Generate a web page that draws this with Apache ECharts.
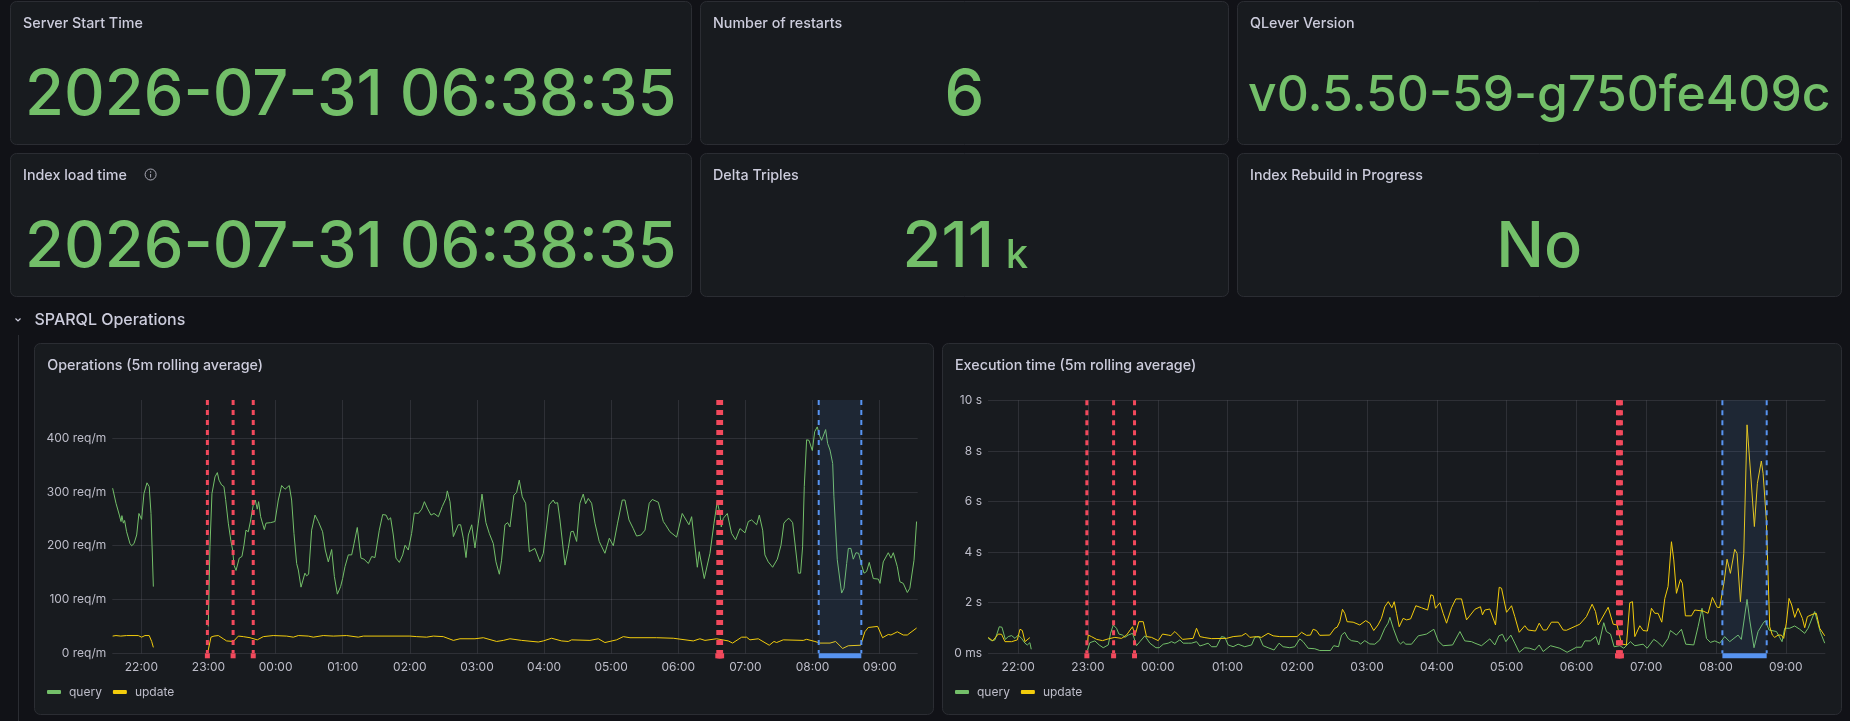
<!DOCTYPE html>
<html>
<head>
<meta charset="utf-8">
<style>html,body{margin:0;padding:0;background:#111217;overflow:hidden}#c{width:1850px;height:721px}</style>
<script src="https://cdn.jsdelivr.net/npm/echarts@6/dist/echarts.min.js"></script>
</head>
<body>
<div id="c"></div>
<script>
// All times are minutes after the left edge of the time range (21:34).
const rangeMinutes = 720;
const restartMinutes = [85, 108, 126, 541.3, 542.5, 543.5, 544.7];
const rebuildRegion = [631.5, 669.6];

const statServerStart = '2026-07-31 06:38:35';
const statRestarts = '6';
const statVersion = 'v0.5.50-59-g750fe409c';
const statIndexLoad = '2026-07-31 06:38:35';
const statDelta = '211';
const statDeltaUnit = 'k';
const statRebuild = 'No';

const opsQuery = [[0.3,307],[3.3,279],[6.3,257],[7.8,245],[8.6,256],[9.9,242],[11,247],[12.8,226],[15.8,204],[17.3,200],[19.4,204],[21.8,220],[23.8,260],[26.2,249],[28.3,297],[31,317],[33,310],[34.6,260],[36.7,124],[60,null],
[85.8,50],[87.3,198],[89.1,297],[91.8,328],[93.9,336],[95.4,322],[97.7,313],[99.8,310],[101.3,286],[103.7,242],[106.1,208],[107.6,192],[108.8,164],[110.6,154],[111.8,156],[113.5,177],[115.9,180],[117.7,201],[119.5,229],[121.6,226],[123.7,248],[126,276],[127.8,285],[129.6,268],[130.8,282],[132.6,254],[135.9,230],[137.4,242],[141.6,243],[145.4,245],[148.4,285],[151.4,312],[154.4,305],[158.2,312],[160.3,285],[162.4,223],[164.8,167],[166.3,155],[168.7,123],[172.2,149],[173.7,144],[175.5,147],[178.2,229],[181.2,257],[184.2,245],[188,226],[190.4,192],[193.1,170],[196.1,193],[198.5,143],[201.2,110],[204.1,124],[205.9,139],[208,161],[211,183],[214,183],[216.1,204],[219,234],[222.3,177],[225,175],[228.9,167],[231.9,180],[234.8,178],[238.7,229],[241.7,258],[244.7,257],[246.8,248],[248.8,252],[251.2,220],[253.6,177],[256.6,169],[259.6,183],[261.7,201],[264.6,192],[267.6,223],[270,261],[273.6,260],[276.6,268],[279,282],[281.6,270],[284.9,257],[287.6,260],[291.5,254],[295,273],[298.3,288],[299.5,302],[301.9,282],[304.9,217],[306.6,214],[309.3,239],[311.4,239],[313.8,214],[316.2,178],[318.3,220],[321.3,239],[324.2,196],[327.2,242],[330.5,296],[334,243],[337,223],[340.6,204],[343,170],[346,147],[348,173],[351,239],[353.4,243],[355.5,235],[359,294],[361.4,299],[363.8,322],[366.5,291],[369.5,279],[372.8,189],[377.8,195],[382.3,170],[385.3,186],[390.6,276],[394.2,285],[395.7,279],[398.1,280],[400.2,248],[404.7,164],[407.6,195],[410,226],[412.1,227],[415.1,208],[418,279],[421,296],[423.1,278],[425.5,288],[428.5,279],[431.5,242],[435.3,208],[440.4,186],[444.3,214],[447.9,200],[451.7,242],[455.9,285],[458.3,285],[461.9,248],[465.7,232],[468.7,218],[472.6,220],[476.2,229],[480,279],[482.7,286],[488.1,281],[492.6,245],[494.6,239],[498.5,226],[504.5,216],[509.5,260],[515.5,239],[517.9,254],[523,160],[524.7,189],[529.2,139],[534.3,186],[537.9,242],[540.8,282],[543.2,260],[544.4,235],[546.2,251],[549.8,260],[553.6,223],[557.2,211],[561.1,232],[565.6,224],[568.6,245],[571.5,248],[576,239],[578.4,257],[581.4,229],[583.4,183],[586.4,170],[590.3,160],[594.5,175],[597.8,201],[600.4,242],[602.8,248],[604.9,251],[608.2,243],[613.3,149],[615.3,149],[617.1,198],[618.6,310],[620.7,397],[622.8,396],[625.8,377],[627.9,412],[630.2,421],[632.6,403],[634.1,396],[637.7,416],[639.5,390],[641.6,378],[644,353],[645.1,291],[648.1,174],[652,112],[654.1,121],[656.5,167],[658,195],[660.3,195],[662.4,175],[664.8,187],[667.2,186],[669.9,164],[672,149],[674.3,152],[676.7,169],[680.3,139],[684.8,138],[686.3,130],[689.2,170],[693.7,187],[696.1,177],[698.2,187],[701.8,161],[704.1,133],[707.1,130],[710.7,113],[713,121],[716.7,173],[719,245]];

const opsUpdate = [[0.3,32],[3.3,33],[7.5,32],[12.8,33],[23.2,33],[26.2,30],[29.2,33],[33,33],[35.2,22],[36.7,11],[60,null],
[85.8,6],[88.2,30],[90.9,32],[94.8,33],[99.2,27],[102.2,23],[108.2,22],[112.7,32],[117.1,31],[123.1,29],[129.6,25],[135,31],[143.9,33],[155.9,32],[161.8,30],[166.3,33],[175.2,32],[179.7,30],[188.6,33],[197.6,32],[209.5,33],[219.9,30],[224.4,32],[266.1,32],[272.1,31],[281,30],[287,32],[295.9,31],[304.9,24],[310.8,27],[324.2,27],[331.7,29],[343.6,22],[349.6,24],[355.5,27],[365.9,24],[380.8,21],[385.3,23],[392.7,28],[401.7,23],[407.6,22],[410.6,25],[427,24],[434.5,27],[440.4,20],[450.8,25],[456.8,31],[462.8,29],[486.6,29],[501.5,28],[519.4,23],[525.3,27],[529.8,24],[540.2,27],[550.7,23],[554.5,19],[562.6,30],[567,30],[570,25],[577.5,27],[587.3,15],[591.5,22],[593.9,20],[599.8,25],[617.7,24],[620.7,26],[628.1,22],[632.6,19],[641.6,19],[646.6,22],[652.9,9],[657.9,14],[669,15],[672.8,40],[675.8,48],[684.2,50],[688.6,29],[693.7,35],[696.1,34],[701.8,40],[707.1,34],[710.7,34],[719,47]];

const execQuery = [[0.2,0.59],[3.1,0.5],[6,0.53],[9.7,1.05],[12,1.03],[14.9,0.55],[17.4,0.66],[20.3,0.7],[23.2,0.59],[26,0.72],[28.9,0.59],[31.8,0.4],[33.8,0.33],[36,0.42],[37.2,0.16],[60,null],
[85.6,0.13],[87.6,0.42],[91.9,0.49],[95.6,0.33],[99.1,0.22],[103.4,0.33],[105.4,0.79],[107.7,1.12],[110.5,0.99],[112.6,0.76],[115.7,0.72],[117.7,0.63],[120.6,0.72],[124.3,0.79],[127.7,0.3],[130.6,0.46],[134.9,0.69],[139.2,0.4],[144.4,0.22],[147.2,0.22],[150.7,0.36],[155,0.4],[157.8,0.46],[160.7,0.4],[165,0.53],[167.8,0.4],[172.1,0.4],[175,0.4],[179.3,0.46],[182.2,0.29],[185,0.33],[189.3,0.4],[192.2,0.26],[196.5,0.26],[200.8,0.66],[203.7,0.63],[206.5,0.33],[210.8,0.26],[215.1,0.36],[220.8,0.26],[226.6,0.33],[229.4,0.63],[233.2,0.66],[236.6,0.3],[240.9,0.22],[246,0.13],[250.3,0.4],[253.8,0.26],[259.5,0.22],[263.8,0.26],[268.1,0.57],[271,0.46],[275.3,0.2],[281,0.18],[285.3,0.11],[294.5,0.11],[297.3,0.3],[301.4,0.26],[304,0.72],[306.8,0.83],[309.7,0.59],[312.5,0.5],[318.3,0.46],[320.3,0.36],[324,0.5],[328.3,0.37],[332.6,0.36],[336.9,0.53],[341.2,0.99],[344,1.19],[345.6,1.42],[348.5,0.99],[352.8,0.46],[354.8,0.37],[357,0.46],[359.3,0.36],[364.2,0.36],[370,0.69],[377.1,0.76],[383.4,0.95],[387.1,0.49],[391.4,0.3],[399.5,0.33],[405.8,0.86],[410,0.49],[415.8,0.46],[418.7,0.4],[424.4,0.3],[431.5,0.57],[435.8,0.33],[439.3,0.69],[442.4,0.75],[445.3,0.46],[449.6,0.72],[453,0.4],[456.8,0.04],[461.6,0.22],[465.9,0.2],[470.2,0.13],[474,0.33],[477.4,0.07],[483.7,0.3],[491.7,0.2],[498,0.04],[506,0.24],[510.3,0.24],[513.2,0.49],[518,0.49],[522.7,0.66],[525.2,0.33],[529.5,1.21],[531.8,0.86],[535.3,0.76],[538.4,0.26],[543.3,0.3],[546.7,0.2],[552.4,0.46],[556.2,0.3],[563.3,0.36],[566.8,0.2],[572.5,0.55],[575.4,0.46],[580,0.26],[584.8,0.59],[586.8,0.9],[592,0.72],[596.3,0.95],[600,0.36],[606.9,0.33],[610.6,1.05],[614,1.78],[617.8,0.59],[621.2,0.43],[625,0.49],[629.2,0.4],[633.5,0.66],[637.8,0.46],[645,0.72],[647.8,0.55],[652.7,2.13],[655,1.32],[658.7,0.22],[662.2,0.86],[666.5,1.19],[668.5,1.29],[671.6,0.92],[678,0.86],[682.8,0.46],[685.1,0.99],[689.4,0.99],[693.7,1.08],[698,0.95],[702.3,0.79],[705.2,0.99],[710.9,1.65],[715.8,0.83],[719.5,0.4]];

const execUpdate = [[0.2,0.63],[4,0.49],[8.8,0.76],[11.7,0.75],[14.6,0.46],[20.3,0.46],[25.2,0.53],[27.5,0.95],[29.5,0.9],[31.8,0.46],[36,0.62],[60,null],
[85.6,0.4],[86.2,0.72],[89,0.66],[93.4,0.55],[98.5,0.5],[103.4,0.57],[109.1,0.63],[114.8,0.59],[119.1,0.72],[124.3,1.05],[126.3,0.69],[129.7,1.25],[133.5,1.25],[136.3,0.66],[140.6,0.63],[146.4,0.5],[150.1,0.76],[155,0.72],[157.2,0.7],[160.7,0.86],[164.4,0.69],[167.3,0.55],[176.4,0.59],[179.3,0.99],[182.2,0.66],[186.5,0.62],[192.2,0.58],[205.1,0.59],[210.8,0.66],[218,0.69],[221.7,0.79],[225.1,0.63],[230.9,0.66],[235.2,0.63],[240.9,0.79],[245.2,0.69],[250.9,0.66],[265.8,0.66],[269.6,0.83],[273.9,0.71],[277.3,0.72],[279.6,0.95],[282.4,0.9],[285.3,0.71],[293.9,0.72],[298.2,0.99],[300.2,1.03],[302.5,1.25],[304.8,1.74],[306.8,1.58],[308.8,1.25],[314,1.23],[319.7,1.12],[324.8,1.29],[328.3,1.19],[331.7,0.9],[335.4,1.12],[338.3,1.38],[341.2,1.84],[344.2,2.04],[347.3,1.8],[349.3,2.04],[351.3,1.58],[353.6,1.05],[357,1.38],[359.9,1.32],[363.4,1.36],[367.9,1.88],[372.8,1.8],[378,1.71],[380.8,2.31],[382.8,2.28],[384.8,1.78],[388.6,2],[391.4,1.58],[394.3,1.19],[398.6,1.8],[402.3,2.15],[407.2,2.15],[411.5,1.32],[418.7,1.74],[423.5,1.84],[425.2,1.52],[427.2,1.71],[431.5,1.75],[436.4,1.12],[439.6,2.61],[441.6,2.57],[445.9,1.62],[450.2,1.88],[453,1.45],[456.8,0.83],[461.6,1.09],[464.5,0.92],[470.8,0.88],[474,1.19],[477.4,0.92],[480.3,0.92],[484.5,1.23],[490.3,1.23],[494.6,0.92],[497.4,0.91],[508.9,1.15],[514.6,1.45],[519.5,1.94],[522.4,1.65],[524.7,1.12],[533.3,1.82],[537.6,1.15],[541,1.12],[544.7,0.37],[549,0.33],[551.9,2],[554.2,2.04],[556.2,0.66],[560.5,1.09],[563.3,0.9],[567,0.88],[570.5,1.78],[573.4,1.58],[576.2,1.58],[579.4,1.23],[582,2.17],[584.8,2.64],[587.7,4.41],[589.7,3.69],[592,2.37],[595.4,2.92],[597.1,2.77],[599.7,1.48],[604.9,1.48],[607.7,1.71],[614.9,1.67],[619.2,1.58],[622.9,2.21],[627,1.82],[629.2,1.81],[633,2.83],[635.5,3.72],[638.4,3.16],[642.1,4.11],[644.1,3.95],[647,2.04],[649.9,3.95],[652.7,9.03],[653.9,8.99],[656.2,6.85],[659,5.01],[661.6,6.72],[665,7.6],[666.5,7.11],[669.3,5.27],[672.2,1.05],[674.5,0.72],[676.5,0.63],[679.4,0.72],[682.2,0.72],[684.2,0.59],[686.5,1.19],[688.8,2.17],[691.1,1.91],[693.7,1.42],[696.6,1.78],[700.3,1.38],[702.3,1.01],[704.6,1.45],[709.5,1.55],[712.3,1.58],[715.2,0.99],[719.5,0.69]];

const FONT = 'Inter, "Noto Sans", sans-serif';
const TEXT = '#ccccdc', AXIS = '#bdbdc9', GREEN = '#73BF69', YELLOW = '#F2CC0C', RED = '#F2495C', BLUE = '#5794F2';
const GRID = 'rgba(204,204,220,0.12)';
const t0 = new Date(2026, 6, 30, 21, 34, 0).getTime();
const toMs = m => t0 + m * 60000;
const toSeries = rows => rows.map(r => [toMs(r[0]), r[1]]);
const pad = n => String(n).padStart(2, '0');

function panel(x, y, w, h) {
  return {type:'rect', z:0, silent:true, shape:{x:x+0.5, y:y+0.5, width:w, height:h, r:6},
    style:{fill:'#181b1f', stroke:'#2b2d33', lineWidth:1}};
}
function label(x, y, text, size, weight, color, align) {
  return {type:'text', z:1, silent:true, x:x, y:y,
    style:{text:text, fontFamily:FONT, fontSize:size, fontWeight:weight, fill:color, align:align||'left', verticalAlign:'middle'}};
}
const TITLE = 14.3, BIG = 63.2;

const graphic = [
  panel(10,1,681,143), panel(700,1,528,143), panel(1237,1,604,143),
  panel(10,153,681,143), panel(700,153,528,143), panel(1237,153,604,143),
  panel(34,343,899,371), panel(942,343,899,371),
  label(23,24,'Server Start Time',TITLE,500,TEXT),
  label(713,24,'Number of restarts',TITLE,500,TEXT),
  label(1250,24,'QLever Version',TITLE,500,TEXT),
  label(23,176,'Index load time',TITLE,500,TEXT),
  label(713,176,'Delta Triples',TITLE,500,TEXT),
  label(1250,176,'Index Rebuild in Progress',TITLE,500,TEXT),
  label(350.8,96.5,statServerStart,BIG,500,GREEN,'center'),
  label(964.3,96.5,statRestarts,BIG,500,GREEN,'center'),
  label(1539.3,96.5,statVersion,49.8,500,GREEN,'center'),
  label(350.8,248.5,statIndexLoad,BIG,500,GREEN,'center'),
  label(948.2,248.5,statDelta,BIG,500,GREEN,'center'),
  label(1017,255.5,statDeltaUnit,40,500,GREEN,'center'),
  label(1539.3,248.5,statRebuild,BIG,500,GREEN,'center'),
  {type:'circle', z:1, silent:true, shape:{cx:150.6, cy:174.5, r:5.5}, style:{fill:'none', stroke:'#a9a9b5', lineWidth:1}},
  {type:'line', z:1, silent:true, shape:{x1:150.6, y1:174, x2:150.6, y2:177.5}, style:{stroke:'#a9a9b5', lineWidth:1}},
  {type:'circle', z:1, silent:true, shape:{cx:150.6, cy:172, r:0.7}, style:{fill:'#a9a9b5'}},
  {type:'polyline', z:1, silent:true, shape:{points:[[15.5,318.5],[18,321],[20.5,318.5]]}, style:{stroke:TEXT, fill:'none', lineWidth:1.2}},
  label(34.5,320,'SPARQL Operations',16,500,TEXT),
  {type:'line', z:1, silent:true, shape:{x1:18.5, y1:335, x2:18.5, y2:721}, style:{stroke:'#2b2d33', lineWidth:1}},
  label(47.3,366,'Operations (5m rolling average)',TITLE,500,TEXT),
  label(955,366,'Execution time (5m rolling average)',TITLE,500,TEXT)
];

function dashed(x, y1, y2, color, width) {
  return {type:'line', silent:true, shape:{x1:x, y1:y1, x2:x, y2:y2},
    style:{stroke:color, lineWidth:width, lineDash:[5,5], fill:null}};
}
function restartItem(params, api) {
  const c = api.coord([api.value(0), 0]);
  const top = params.coordSys.y;
  return {type:'group', children:[
    dashed(c[0], top, c[1], RED, 3),
    {type:'rect', silent:true, shape:{x:c[0]-2.5, y:c[1], width:5, height:5}, style:{fill:RED}}
  ]};
}
function regionItem(params, api) {
  const a = api.coord([api.value(0), 0]), b = api.coord([api.value(1), 0]);
  const top = params.coordSys.y;
  return {type:'group', children:[
    {type:'rect', silent:true, shape:{x:a[0], y:top, width:b[0]-a[0], height:a[1]-top}, style:{fill:'rgba(87,148,242,0.1)'}},
    dashed(a[0], top, a[1], BLUE, 2),
    dashed(b[0], top, b[1], BLUE, 2),
    {type:'rect', silent:true, shape:{x:a[0], y:a[1], width:b[0]-a[0], height:5}, style:{fill:BLUE}}
  ]};
}
function lineSeries(name, color, data, i) {
  return {type:'line', name:name, xAxisIndex:i, yAxisIndex:i, data:toSeries(data), showSymbol:false, connectNulls:false,
    animation:false, silent:true, lineStyle:{color:color, width:1}, itemStyle:{color:color}, z:3};
}
function annotationSeries(i) {
  return [
    {type:'custom', name:'restarts', xAxisIndex:i, yAxisIndex:i, clip:false, silent:true, animation:false, z:5,
      data:restartMinutes.map(m => [toMs(m)]), encode:{x:0}, renderItem:restartItem},
    {type:'custom', name:'rebuild', xAxisIndex:i, yAxisIndex:i, clip:false, silent:true, animation:false, z:4,
      data:[[toMs(rebuildRegion[0]), toMs(rebuildRegion[1])]], encode:{x:[0,1]}, renderItem:regionItem}
  ];
}
function xAxis(gridIndex) {
  return {type:'time', gridIndex:gridIndex, min:t0, max:toMs(rangeMinutes), minInterval:3600000, maxInterval:3600000,
    axisLine:{show:false}, axisTick:{show:false},
    splitLine:{show:true, showMinLine:false, showMaxLine:false, lineStyle:{color:GRID, width:1}},
    axisLabel:{color:AXIS, fontFamily:FONT, fontSize:12, margin:8, showMinLabel:false, showMaxLabel:false, hideOverlap:false,
      formatter:v => { const d = new Date(v); return pad(d.getHours()) + ':' + pad(d.getMinutes()); }}};
}
function yAxis(gridIndex, max, interval, fmt, showMax) {
  return {type:'value', gridIndex:gridIndex, min:0, max:max, interval:interval,
    axisLine:{show:false}, axisTick:{show:false},
    splitLine:{show:true, showMaxLine:showMax, lineStyle:{color:GRID, width:1}},
    axisLabel:{color:AXIS, fontFamily:FONT, fontSize:12, margin:6, showMaxLabel:showMax, formatter:fmt}};
}
function legend(left) {
  return {show:true, left:left, top:686, icon:'roundRect', itemWidth:14, itemHeight:4, itemGap:11, data:['query','update'],
    selectedMode:false, padding:0, textStyle:{color:AXIS, fontFamily:FONT, fontSize:12, padding:[0,0,0,3]}};
}

const option = {
  animation:false,
  backgroundColor:'#111217',
  textStyle:{fontFamily:FONT},
  graphic:graphic,
  legend:[legend(47), legend(955)],
  grid:[
    {left:112.3, right:1850-917.7, top:400, bottom:721-653.3, containLabel:false},
    {left:988, right:1850-1825.3, top:400.3, bottom:721-653.3, containLabel:false}
  ],
  xAxis:[xAxis(0), xAxis(1)],
  yAxis:[
    yAxis(0, 471, 100, v => v + ' req/m', false),
    yAxis(1, 10, 2, v => v === 0 ? '0 ms' : v + ' s', true)
  ],
  series:[
    lineSeries('query', GREEN, opsQuery, 0),
    lineSeries('update', YELLOW, opsUpdate, 0),
    ...annotationSeries(0),
    lineSeries('query', GREEN, execQuery, 1),
    lineSeries('update', YELLOW, execUpdate, 1),
    ...annotationSeries(1)
  ]
};
const chart = echarts.init(document.getElementById('c'), null, {width:1850, height:721});
chart.setOption(option);
</script>
</body>
</html>
